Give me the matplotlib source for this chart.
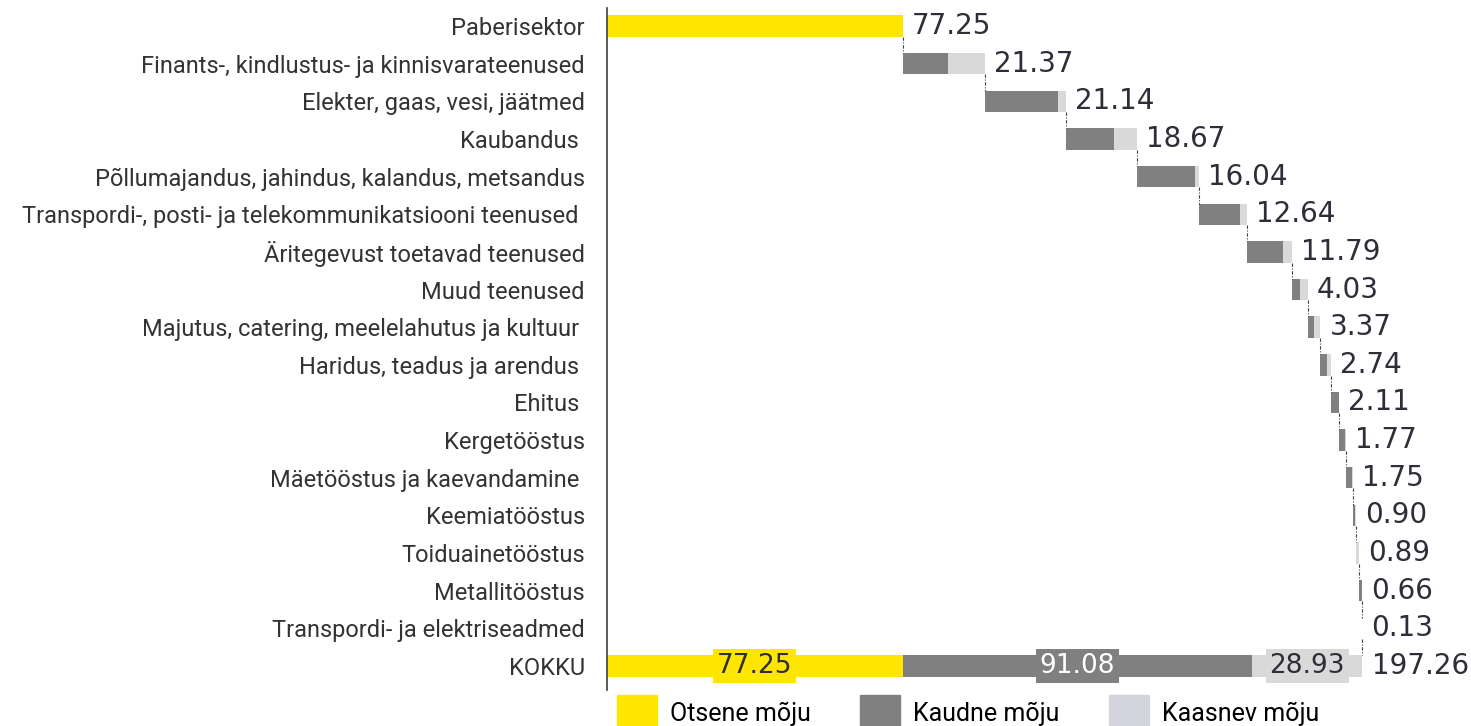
import numpy as np
import matplotlib
matplotlib.use("Agg")
import matplotlib.pyplot as plt
import matplotlib.patches as mpatches

# data
direct_label = "Paberisektor"
direct_value = 77.25

sectors = [
    "Finants-, kindlustus- ja kinnisvarateenused",
    "Elekter, gaas, vesi, jäätmed",
    "Kaubandus ",
    "Põllumajandus, jahindus, kalandus, metsandus",
    "Transpordi-, posti- ja telekommunikatsiooni teenused ",
    "Äritegevust toetavad teenused",
    "Muud teenused",
    "Majutus, catering, meelelahutus ja kultuur ",
    "Haridus, teadus ja arendus ",
    "Ehitus ",
    "Kergetööstus",
    "Mäetööstus ja kaevandamine ",
    "Keemiatööstus",
    "Toiduainetööstus",
    "Metallitööstus",
    "Transpordi- ja elektriseadmed",
]
totals = [21.37, 21.14, 18.67, 16.04, 12.64, 11.79, 4.03, 3.37,
          2.74, 2.11, 1.77, 1.75, 0.90, 0.89, 0.66, 0.13]
indirect = [11.9, 19.2, 12.7, 15.1, 10.9, 9.3, 2.0, 1.6,
            1.8, 2.0, 1.5, 1.6, 0.7, 0.1, 0.6, 0.08]
induced = [9.47, 1.94, 5.97, 0.94, 1.74, 2.49, 2.03, 1.77,
           0.94, 0.11, 0.27, 0.15, 0.2, 0.79, 0.06, 0.05]

total_label = "KOKKU"
total_direct = 77.25
total_indirect = 91.08
total_induced = 28.93
grand_total = 197.26

legend_labels = ["Otsene mõju", "Kaudne mõju", "Kaasnev mõju"]

YELLOW = "#ffe600"
GRAY = "#808080"
LIGHT = "#d9d9d9"
LEGEND_LIGHT = "#d3d3dc"
NUM_COLOR = "#2e2e38"
TXT_COLOR = "#333333"
LABEL_FONT = ["Roboto", "DejaVu Sans"]

labels = [direct_label] + sectors + [total_label]
n = len(labels)
y = np.arange(n)

fig = plt.figure(figsize=(14.71, 7.26), dpi=100)
ax = fig.add_axes([607 / 1471, 36 / 726, 1 - 607 / 1471, 682 / 726])

bh = 0.57
# first bar: direct effect
ax.barh(y[0], direct_value, height=bh, color=YELLOW)

# waterfall for sectors
starts = direct_value + np.concatenate([[0], np.cumsum(totals)[:-1]])
ys = y[1:-1]
ax.barh(ys, indirect, left=starts, height=bh, color=GRAY)
ax.barh(ys, induced, left=starts + np.array(indirect), height=bh, color=LIGHT)

# total bar
ax.barh(y[-1], total_direct, height=bh, color=YELLOW)
ax.barh(y[-1], total_indirect, left=total_direct, height=bh, color=GRAY)
ax.barh(y[-1], total_induced, left=total_direct + total_indirect, height=bh, color=LIGHT)

# connectors
ends = np.concatenate([[direct_value], starts + np.array(totals)])
for i, xe in enumerate(ends):
    ax.plot([xe, xe], [y[i] + bh / 2, y[i + 1] - bh / 2], color="#404040",
            lw=0.8, ls=(0, (3, 1.5, 1, 1.5)))

# value labels
num_font = dict(fontsize=20, color=NUM_COLOR, family="DejaVu Sans", va="center")
ax.text(direct_value + 2.4, y[0], f"{direct_value:.2f}", **num_font)
for yi, xe, t in zip(ys, ends[1:], totals):
    ax.text(xe + 2.4, yi, f"{t:.2f}", **num_font)
ax.text(grand_total + 2.4, y[-1], f"{grand_total:.2f}", **num_font)

# labels inside the total bar
box_font = dict(fontsize=19, family="DejaVu Sans", va="center", ha="center")
ax.text(total_direct / 2, y[-1], f"{total_direct:.2f}", color=NUM_COLOR,
        bbox=dict(boxstyle="square,pad=0.14", fc=YELLOW, ec="none"), **box_font)
ax.text(total_direct + total_indirect / 2, y[-1], f"{total_indirect:.2f}", color="white",
        bbox=dict(boxstyle="square,pad=0.14", fc=GRAY, ec="none"), **box_font)
ax.text(total_direct + total_indirect + total_induced / 2, y[-1], f"{total_induced:.2f}",
        color=NUM_COLOR, bbox=dict(boxstyle="square,pad=0.14", fc=LIGHT, ec="none"), **box_font)

ax.set_yticks(y)
ax.set_yticklabels(labels, fontsize=17, family=LABEL_FONT, color=TXT_COLOR)
ax.tick_params(axis="y", length=0, pad=16)
ax.set_xticks([])
ax.set_xlim(0, 225.6)
ax.set_ylim(n - 1 + 0.64, -0.48)
for s in ["top", "right", "bottom"]:
    ax.spines[s].set_visible(False)
ax.spines["left"].set_color("#404040")
ax.spines["left"].set_linewidth(1.2)

handles = [mpatches.Patch(color=YELLOW), mpatches.Patch(color=GRAY),
           mpatches.Patch(color=LEGEND_LIGHT)]
fig.legend(handles, legend_labels, loc="upper left", ncol=3,
           bbox_to_anchor=(612 / 1471, 1 - 690 / 726), frameon=False,
           prop={"family": LABEL_FONT, "size": 18},
           handlelength=1.6, handleheight=1.8, handletextpad=0.5,
           columnspacing=2.0, borderaxespad=0, borderpad=0.2)

fig.savefig("out.png", dpi=100)
